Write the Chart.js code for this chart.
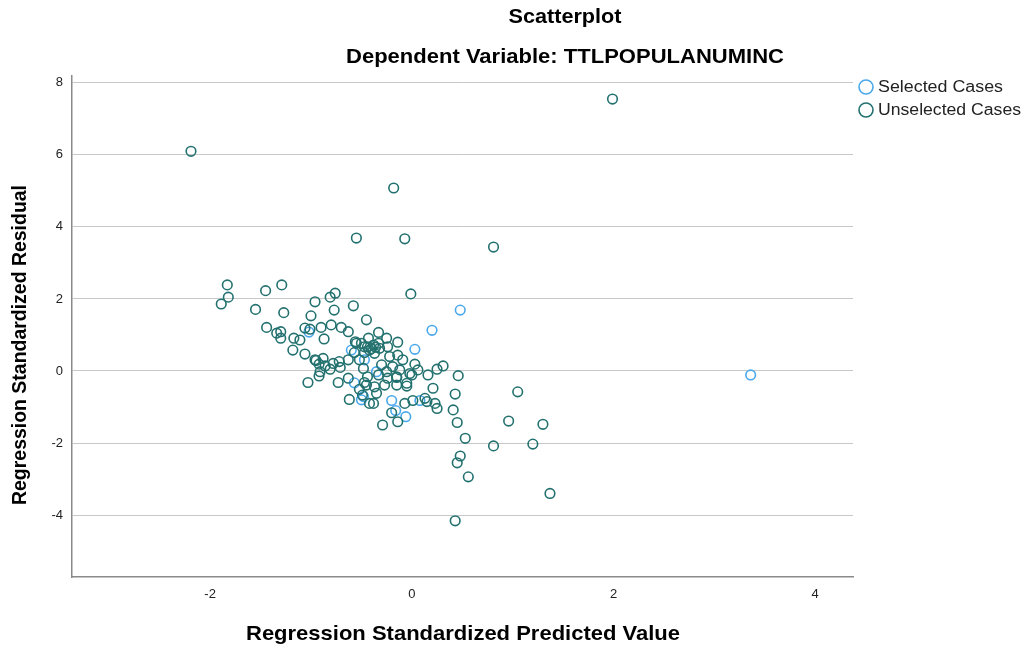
<!DOCTYPE html>
<html>
<head>
<meta charset="utf-8">
<script src="https://cdn.jsdelivr.net/npm/chart.js@4"></script>
<style>
html, body { margin: 0; padding: 0; background: #fff; }
</style>
</head>
<body>
<canvas id="chart" width="1026" height="649"></canvas>
<script>
const chartTitle = "Scatterplot";
const chartSubtitle = "Dependent Variable: TTLPOPULANUMINC";
const xTitle = "Regression Standardized Predicted Value";
const yTitle = "Regression Standardized Residual";
const legendLabels = ["Selected Cases", "Unselected Cases"];
const xTicks = [-2, 0, 2, 4];
const yTicks = [-4, -2, 0, 2, 4, 6, 8];

// [predicted, residual]
const selectedCases = [
    [3.36, -0.11], [0.48, 1.69], [0.20, 1.13], [0.03, 0.60], [-0.60, 0.58],
    [-0.47, 0.31], [-1.02, 1.08], [-0.57, -0.33], [-0.50, -0.80], [-0.20, -0.82],
    [-0.16, -1.10], [-0.06, -1.27], [0.08, -0.82], [-0.35, -0.02], [-0.48, -0.71]
];

const unselectedCases = [
    [1.99, 7.55], [-2.19, 6.10], [-0.18, 5.08], [-0.55, 3.69], [-0.07, 3.67], [0.81, 3.44],
    [-1.83, 2.39], [-1.82, 2.05], [-1.89, 1.86], [-1.45, 2.23], [-1.29, 2.39], [-1.55, 1.71],
    [-1.27, 1.62], [-0.96, 1.92], [-1.00, 1.53], [-1.44, 1.21], [-1.34, 1.05], [-1.30, 1.09],
    [-1.30, 0.91], [-1.17, 0.91], [-1.11, 0.86], [-1.06, 1.19], [-1.01, 1.16], [-1.18, 0.58],
    [-1.06, 0.47], [-0.96, 0.31], [-1.03, -0.32], [-0.92, -0.14],
    [-0.76, 2.16], [-0.81, 2.05], [-0.01, 2.14], [-0.58, 1.81], [-0.77, 1.69], [-0.45, 1.42],
    [-0.90, 1.21], [-0.80, 1.28], [-0.70, 1.21], [-0.63, 1.09], [-0.87, 0.89], [-0.56, 0.81],
    [-0.43, 0.91], [-0.33, 1.07], [-0.25, 0.91], [-0.14, 0.80], [-0.55, 0.77], [-0.47, 0.67],
    [-0.50, 0.77], [-0.44, 0.67], [-0.38, 0.72], [-0.33, 0.77], [-0.32, 0.63], [-0.24, 0.67],
    [-0.47, 0.51], [-0.37, 0.49], [-0.57, 0.51], [-0.22, 0.40], [-0.14, 0.44], [-0.09, 0.31],
    [-0.40, 0.62], [-0.36, 0.66], [-0.42, 0.58],
    [-0.95, 0.29], [-0.88, 0.35], [-0.92, 0.19], [-0.86, 0.14], [-0.78, 0.21], [-0.72, 0.26],
    [-0.71, 0.10], [-0.63, 0.31], [-0.52, 0.31], [-0.48, 0.07], [-0.81, 0.05], [-0.91, -0.02],
    [-0.30, 0.17], [-0.19, 0.12], [-0.12, 0.03], [0.03, 0.19], [0.06, 0.03], [-0.02, -0.07],
    [0.16, -0.11], [0.25, 0.05], [0.31, 0.14], [-0.15, -0.16], [-0.25, -0.02],
    [-0.44, -0.16], [-0.33, -0.11], [-0.24, -0.20], [-0.15, -0.18], [0.00, -0.11],
    [-0.45, -0.39], [-0.37, -0.44], [-0.27, -0.39], [-0.15, -0.39], [-0.05, -0.42], [0.21, -0.48],
    [-0.35, -0.62], [-0.38, -0.90], [-0.07, -0.90], [0.01, -0.82], [0.13, -0.76], [0.15, -0.85],
    [0.23, -0.90], [0.25, -1.04], [0.41, -1.08], [-0.20, -1.16], [-0.14, -1.41], [-0.29, -1.50],
    [-0.73, -0.32], [-0.63, -0.20], [-0.47, -0.32], [-0.52, -0.51], [-0.62, -0.79], [-0.49, -0.67],
    [-0.42, -0.90], [-0.05, -0.34],
    [0.46, -0.13], [0.43, -0.64], [0.45, -1.43], [0.53, -1.87], [0.48, -2.36], [0.45, -2.55],
    [0.56, -2.94], [0.43, -4.16], [1.05, -0.58], [0.96, -1.39], [1.30, -1.48], [1.20, -2.03],
    [0.81, -2.08], [1.37, -3.40]
];

const selectedColor = "#4aa8ec";
const unselectedColor = "#22716f";
const fontFamily = '"Liberation Sans", Arial, sans-serif';

const toPoints = list => list.map(p => ({ x: p[0], y: p[1] }));

// draws text squeezed/stretched to a given width, centred on (x, y)
function fitText(ctx, text, x, y, width, angle) {
    const w = ctx.measureText(text).width;
    ctx.save();
    ctx.translate(x, y);
    if (angle) ctx.rotate(angle);
    ctx.scale(width / w, 1);
    ctx.fillText(text, 0, 0);
    ctx.restore();
}

// titles, axis titles and legend
const textPlugin = {
    id: 'texts',
    afterDraw(chart) {
        const ctx = chart.ctx;
        ctx.save();
        ctx.fillStyle = '#000';
        ctx.textAlign = 'center';
        ctx.textBaseline = 'middle';
        ctx.font = 'bold 20px ' + fontFamily;
        fitText(ctx, chartTitle, 565, 17, 113);
        fitText(ctx, chartSubtitle, 565, 57, 438);
        ctx.font = 'bold 21px ' + fontFamily;
        fitText(ctx, xTitle, 463, 634, 434);
        fitText(ctx, yTitle, 20, 345, 320, -Math.PI / 2);

        const colors = [selectedColor, unselectedColor];
        ctx.textAlign = 'left';
        ctx.font = '16px ' + fontFamily;
        const widths = [125, 143];
        legendLabels.forEach((label, i) => {
            const y = 87 + i * 23;
            ctx.beginPath();
            ctx.arc(866, y, 7, 0, Math.PI * 2);
            ctx.lineWidth = 1.6;
            ctx.strokeStyle = colors[i];
            ctx.stroke();
            ctx.fillStyle = '#222';
            const w = ctx.measureText(label).width;
            ctx.save();
            ctx.translate(878, y + 1);
            ctx.scale(widths[i] / w, 1);
            ctx.fillText(label, 0, 0);
            ctx.restore();
        });
        ctx.restore();
    }
};

new Chart(document.getElementById('chart'), {
    type: 'scatter',
    data: {
        datasets: [
            {
                label: legendLabels[1],
                data: toPoints(unselectedCases),
                borderColor: unselectedColor,
                backgroundColor: 'rgba(0,0,0,0)',
                borderWidth: 1.6,
                pointRadius: 4.8,
            },
            {
                label: legendLabels[0],
                data: toPoints(selectedCases),
                borderColor: selectedColor,
                backgroundColor: 'rgba(0,0,0,0)',
                borderWidth: 1.6,
                pointRadius: 4.8,
            }
        ]
    },
    options: {
        responsive: false,
        animation: false,
        layout: { padding: { left: 0, top: 76, right: 173, bottom: 0 } },
        plugins: {
            legend: { display: false },
            title: { display: false },
            tooltip: { enabled: false }
        },
        scales: {
            x: {
                type: 'linear',
                min: -3.37,
                max: 4.375,
                afterFit: scale => { scale.height = 72; },
                afterBuildTicks: scale => { scale.ticks = xTicks.map(v => ({ value: v })); },
                grid: { display: false },
                border: { display: true, color: '#8a8a8a', width: 1.5 },
                ticks: { color: '#222', font: { size: 13, family: fontFamily }, padding: 2, maxRotation: 0 }
            },
            y: {
                type: 'linear',
                min: -5.72,
                max: 8.19,
                afterFit: scale => { scale.width = 72; },
                afterBuildTicks: scale => { scale.ticks = yTicks.map(v => ({ value: v })); },
                grid: { color: '#c8c8c8', lineWidth: 1, drawTicks: false },
                border: { display: true, color: '#8a8a8a', width: 1.5 },
                ticks: { color: '#222', font: { size: 13, family: fontFamily }, padding: 9 }
            }
        }
    },
    plugins: [textPlugin]
});
</script>
</body>
</html>
